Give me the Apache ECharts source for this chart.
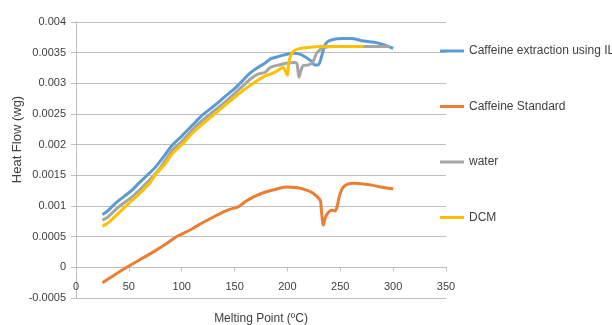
<!DOCTYPE html>
<html>
<head>
<meta charset="utf-8">
<script src="https://cdn.jsdelivr.net/npm/echarts@6/dist/echarts.min.js"></script>
<style>html,body{margin:0;padding:0;background:#fff;}#c{width:612px;height:325px;}</style>
</head>
<body>
<div id="c"></div>
<script>
var seriesNames = ['Caffeine extraction using IL', 'Caffeine Standard', 'water', 'DCM'];
var ilData = [[25,0.00086],[30,0.00092],[37,0.00104],[45,0.00115],[53,0.00126],[60,0.00138],[69,0.00153],[75,0.00163],[83,0.00181],[91,0.00199],[100,0.00214],[113,0.00237],[120,0.00249],[129,0.00261],[140,0.00277],[151,0.00293],[158,0.00305],[164,0.00316],[172,0.00326],[179,0.00333],[184,0.0034],[190,0.00343],[196,0.00346],[206,0.00349],[211,0.00348],[215,0.00345],[222,0.00337],[226,0.0033],[229,0.0033],[232,0.00342],[235,0.0036],[238,0.00368],[244,0.00372],[252,0.00373],[260,0.00373],[272,0.00369],[285,0.00366],[293,0.00362],[300,0.00357]];
var standardData = [[25,-0.00025],[35,-0.00014],[48,0],[60,0.00012],[72,0.00024],[85,0.00038],[95,0.0005],[100,0.00054],[110,0.00063],[120,0.00073],[130,0.00082],[140,0.00091],[146,0.00095],[151,0.00097],[154,0.00099],[160,0.00107],[168,0.00115],[178,0.00122],[188,0.00127],[199,0.00131],[208,0.0013],[218,0.00126],[225,0.0012],[231,0.00109],[232,0.00095],[234,0.00069],[236,0.00082],[239,0.0009],[242,0.00093],[245,0.00092],[247,0.00099],[249,0.00115],[252,0.00129],[256,0.00135],[263,0.00137],[272,0.00136],[280,0.00134],[288,0.00131],[295,0.00129],[300,0.00128]];
var waterData = [[25,0.00077],[30,0.00082],[40,0.00098],[53,0.00115],[60,0.00126],[70,0.00143],[80,0.00163],[91,0.00191],[100,0.00205],[112,0.00228],[129,0.00253],[140,0.00268],[151,0.00285],[158,0.00296],[165,0.00307],[172,0.00315],[179,0.00318],[184,0.00326],[192,0.0033],[200,0.00333],[207,0.00334],[209,0.00332],[211,0.0031],[213,0.00322],[215,0.00329],[220,0.0033],[224,0.00335],[228,0.0035],[234,0.00358],[245,0.0036],[260,0.0036],[280,0.0036],[297,0.0036]];
var dcmData = [[25,0.00067],[30,0.00072],[40,0.00088],[53,0.00109],[60,0.0012],[70,0.00138],[76,0.00153],[84,0.00168],[91,0.00185],[100,0.002],[112,0.00222],[129,0.00247],[140,0.00263],[152,0.0028],[160,0.00291],[165,0.00297],[172,0.00305],[179,0.00312],[184,0.00315],[190,0.0032],[196,0.00326],[198,0.0032],[200,0.00313],[201,0.0033],[203,0.00345],[206,0.00353],[212,0.00357],[218,0.00358],[230,0.0036],[244,0.0036],[260,0.0036],[272,0.0036]];
var xName = 'Melting Point (ºC)';
var yName = 'Heat Flow (wg)';

var colors = ['#5B9BD5', '#ED7D31', '#A5A5A5', '#FFC000'];
var allData = [ilData, standardData, waterData, dcmData];
var textColor = '#404040';
var fontFamily = '"Liberation Sans", Arial, sans-serif';

var gridTop = 22, gridBottom = 27, chartH = 325;
var yMin = -0.0005, yMax = 0.004, yStep = 0.0005;
// x axis crosses the value axis at 0: shift it up by one band
var plotH = chartH - gridTop - gridBottom;
var xAxisOffset = -plotH * (0 - yMin) / (yMax - yMin);

var chart = echarts.init(document.getElementById('c'), null, {renderer: 'canvas'});
chart.setOption({
  animation: false,
  backgroundColor: '#fff',
  color: colors,
  textStyle: {fontFamily: fontFamily},
  grid: {left: 76, right: 166, top: gridTop, bottom: gridBottom, containLabel: false, outerBoundsMode: 'none'},
  legend: {
    orient: 'vertical',
    left: 440,
    top: 45,
    padding: 0,
    itemGap: 43.5,
    itemWidth: 24,
    itemHeight: 3,
    itemStyle: {borderWidth: 0},
    icon: 'rect',
    textStyle: {color: textColor, fontSize: 12, fontFamily: fontFamily},
    data: seriesNames
  },
  xAxis: {
    type: 'value',
    min: 0, max: 350, interval: 50,
    offset: xAxisOffset,
    name: xName,
    nameLocation: 'middle',
    nameGap: 45,
    nameTextStyle: {color: textColor, fontSize: 12, fontFamily: fontFamily},
    axisLine: {show: true, onZero: false, lineStyle: {color: '#BFBFBF', width: 1}},
    axisTick: {show: true, length: 4, lineStyle: {color: '#BFBFBF'}},
    axisLabel: {color: textColor, fontSize: 11, margin: 14, fontFamily: fontFamily},
    splitLine: {show: false}
  },
  yAxis: {
    type: 'value',
    min: yMin, max: yMax, interval: yStep,
    axisLine: {show: true, onZero: false, lineStyle: {color: '#BFBFBF', width: 1}},
    axisTick: {show: true, length: 5, lineStyle: {color: '#BFBFBF'}},
    axisLabel: {color: textColor, fontSize: 11, margin: 10, fontFamily: fontFamily,
      formatter: function (v) { return String(+v.toFixed(4)); }},
    splitLine: {show: true, lineStyle: {color: '#BFBFBF', width: 1}}
  },
  graphic: [{
    type: 'text',
    x: 17, y: 139.5,
    rotation: Math.PI / 2,
    style: {text: yName, fill: textColor, font: '13px ' + fontFamily, align: 'center', verticalAlign: 'middle'}
  }],
  series: seriesNames.map(function (n, i) {
    return {
      name: n,
      type: 'line',
      data: allData[i],
      showSymbol: false,
      smooth: 0.3,
      lineStyle: {width: 3, color: colors[i]},
      itemStyle: {color: colors[i]}
    };
  })
});
</script>
</body>
</html>
